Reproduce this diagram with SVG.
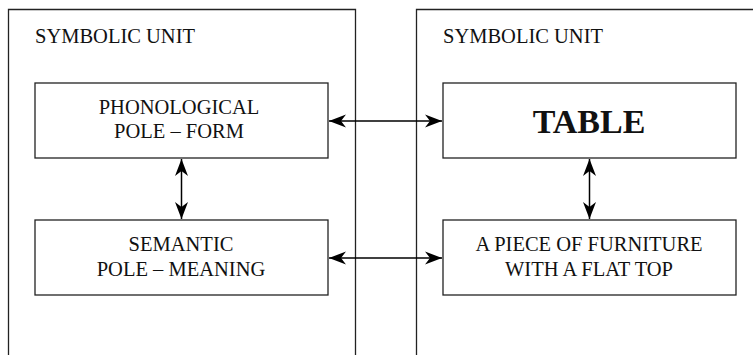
<svg xmlns="http://www.w3.org/2000/svg" width="753" height="355" viewBox="0 0 753 355">
<style>
.frame{fill:none;stroke:#222;stroke-width:1.3}
.box{fill:#fff;stroke:#222;stroke-width:1.3}
.t{font-family:"Liberation Serif","Times New Roman",serif;font-size:20.5px;fill:#111}
.c{text-anchor:middle}
.b{font-weight:bold;font-size:34px}
.arr{fill:none;stroke:#000;stroke-width:1.5;marker-start:url(#ah);marker-end:url(#ah)}
</style>
<defs>
<marker id="ah" viewBox="0 0 18 14" refX="17" refY="7" markerWidth="18" markerHeight="14" markerUnits="userSpaceOnUse" orient="auto-start-reverse">
<path d="M0,0.5 L17,7 L0,13.5 L5,7 Z" fill="#000"/>
</marker>
</defs>
<g id="unit-left">
<path class="frame" d="M8.5,356 V9.5 H355.5 V356"/>
<text class="t" x="35" y="43">SYMBOLIC UNIT</text>
</g>
<g id="unit-right">
<path class="frame" d="M416.5,356 V9.5 H754"/>
<text class="t" x="443" y="43">SYMBOLIC UNIT</text>
</g>
<g id="phon">
<rect class="box" x="35" y="83" width="293" height="75"/>
<text class="t c" x="179" y="114">PHONOLOGICAL</text>
<text class="t c" x="179" y="138">POLE – FORM</text>
</g>
<g id="sem">
<rect class="box" x="35" y="220" width="293" height="75"/>
<text class="t c" x="181" y="251">SEMANTIC</text>
<text class="t c" x="181" y="275.5">POLE – MEANING</text>
</g>
<g id="table">
<rect class="box" x="443" y="83" width="293" height="75"/>
<text class="t c b" x="589" y="133">TABLE</text>
</g>
<g id="furniture">
<rect class="box" x="443" y="220" width="293" height="75"/>
<text class="t c" x="589" y="251">A PIECE OF FURNITURE</text>
<text class="t c" x="589" y="275.5">WITH A FLAT TOP</text>
</g>
<g id="connectors">
<line class="arr" x1="329" y1="121" x2="442" y2="121"/>
<line class="arr" x1="329" y1="258" x2="442" y2="258"/>
<line class="arr" x1="181.5" y1="159" x2="181.5" y2="219"/>
<line class="arr" x1="589.5" y1="159" x2="589.5" y2="219"/>
</g>
</svg>
